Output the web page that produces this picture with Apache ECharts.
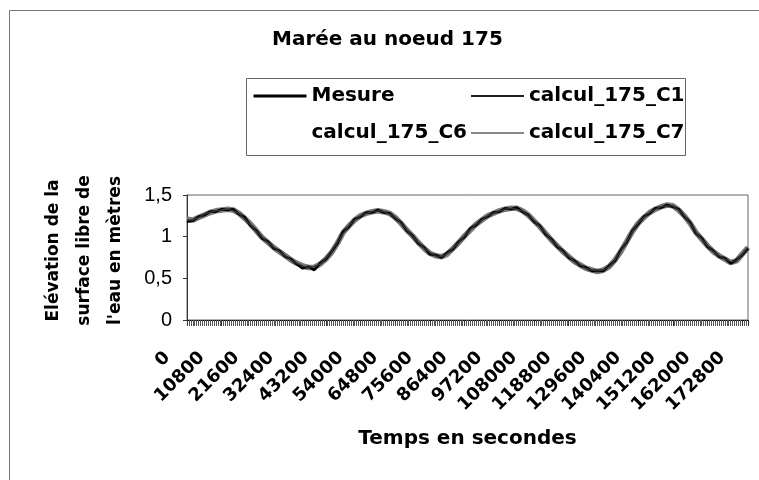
<!DOCTYPE html>
<html>
<head>
<meta charset="utf-8">
<script src="https://cdn.jsdelivr.net/npm/echarts@6/dist/echarts.min.js"></script>
<style>html,body{margin:0;padding:0;background:#fff}#c{width:759px;height:480px}</style>
</head>
<body>
<div id="c"></div>
<script>
// time step between samples (seconds)
const timeStep = 1800;
const xTickLabels = ['0','10800','21600','32400','43200','54000','64800','75600','86400','97200','108000','118800','129600','140400','151200','162000','172800'];
const yTickLabels = ['0','0,5','1','1,5'];
const seriesNames = ['Mesure','calcul_175_C1','calcul_175_C6','calcul_175_C7'];

const mesure = [
 1.18,1.19,1.24,1.26,1.30,1.30,1.33,1.32,1.33,1.27,
 1.23,1.13,1.07,0.98,0.94,0.86,0.83,0.76,0.73,0.67,
 0.62,0.64,0.60,0.68,0.73,0.82,0.92,1.06,1.12,1.21,
 1.24,1.29,1.29,1.32,1.29,1.28,1.22,1.17,1.07,1.01,
 0.92,0.87,0.79,0.78,0.75,0.81,0.85,0.94,1.00,1.10,
 1.14,1.21,1.24,1.29,1.30,1.34,1.33,1.35,1.30,1.26,
 1.18,1.13,1.03,0.97,0.88,0.83,0.75,0.71,0.65,0.63,
 0.59,0.59,0.59,0.65,0.71,0.84,0.93,1.07,1.15,1.24,
 1.28,1.34,1.35,1.38,1.36,1.33,1.24,1.17,1.04,0.98,
 0.88,0.83,0.76,0.74,0.68,0.72,0.78,0.86
];
const calculC1 = [
 1.20,1.20,1.23,1.27,1.29,1.31,1.32,1.33,1.31,1.28,
 1.21,1.14,1.06,0.99,0.93,0.87,0.82,0.77,0.72,0.68,
 0.65,0.63,0.64,0.67,0.74,0.82,0.93,1.04,1.13,1.20,
 1.25,1.28,1.30,1.31,1.30,1.27,1.23,1.16,1.08,1.00,
 0.93,0.86,0.81,0.77,0.76,0.80,0.86,0.93,1.01,1.09,
 1.15,1.20,1.25,1.28,1.31,1.33,1.34,1.33,1.31,1.25,
 1.19,1.12,1.04,0.96,0.89,0.82,0.76,0.70,0.66,0.62,
 0.60,0.59,0.60,0.64,0.72,0.83,0.94,1.06,1.16,1.23,
 1.29,1.33,1.36,1.37,1.37,1.32,1.25,1.16,1.05,0.97,
 0.89,0.82,0.77,0.73,0.70,0.71,0.79,0.87
];
const calculC6 = [
 1.20,1.19,1.23,1.27,1.29,1.31,1.32,1.33,1.32,1.28,
 1.22,1.15,1.06,0.99,0.93,0.87,0.82,0.77,0.72,0.68,
 0.64,0.63,0.63,0.67,0.74,0.81,0.93,1.05,1.13,1.20,
 1.25,1.28,1.30,1.31,1.30,1.28,1.23,1.16,1.08,1.00,
 0.93,0.86,0.80,0.77,0.76,0.80,0.86,0.93,1.01,1.09,
 1.15,1.20,1.25,1.28,1.31,1.33,1.34,1.34,1.31,1.25,
 1.19,1.12,1.04,0.96,0.89,0.82,0.76,0.70,0.66,0.62,
 0.60,0.58,0.60,0.64,0.72,0.83,0.94,1.06,1.16,1.23,
 1.29,1.33,1.36,1.38,1.37,1.32,1.25,1.16,1.05,0.97,
 0.89,0.82,0.77,0.73,0.69,0.71,0.79,0.87
];
const calculC7 = [
 1.21,1.20,1.23,1.26,1.29,1.31,1.32,1.33,1.32,1.28,
 1.22,1.15,1.07,0.99,0.93,0.87,0.82,0.77,0.72,0.68,
 0.65,0.63,0.63,0.67,0.73,0.81,0.92,1.05,1.13,1.20,
 1.25,1.28,1.30,1.31,1.30,1.28,1.23,1.16,1.08,1.01,
 0.93,0.86,0.80,0.77,0.76,0.79,0.86,0.93,1.01,1.08,
 1.15,1.20,1.25,1.28,1.31,1.33,1.34,1.34,1.31,1.26,
 1.19,1.12,1.04,0.96,0.89,0.82,0.76,0.70,0.66,0.62,
 0.60,0.58,0.60,0.64,0.72,0.82,0.94,1.06,1.16,1.23,
 1.29,1.33,1.36,1.38,1.37,1.32,1.25,1.16,1.05,0.97,
 0.89,0.82,0.77,0.73,0.69,0.71,0.79,0.87
];

const times = mesure.map((_, i) => i * timeStep);
const pairs = vals => vals.map((v, i) => [times[i], v]);

const FONT = 'DejaVu Sans';
const chart = echarts.init(document.getElementById('c'), null, {renderer: 'canvas'});
const legendText = {fontFamily: FONT, fontWeight: 'bold', fontSize: 20, color: '#000', lineHeight: 20};

chart.setOption({
  animation: false,
  backgroundColor: '#fff',
  title: {
    text: 'Marée au noeud 175', left: 272, top: 30, padding: 0,
    textStyle: {fontFamily: FONT, fontWeight: 'bold', fontSize: 20, color: '#000'}
  },
  legend: [
    {left: 252, top: 86, orient: 'vertical', padding: 0, itemWidth: 53, itemHeight: 14, itemGap: 17,
     selectedMode: false, textStyle: legendText, itemStyle: {opacity: 0},
     data: [{name: seriesNames[0], lineStyle: {width: 3, color: '#000'}}, {name: seriesNames[2]}]},
    {left: 470, top: 86, orient: 'vertical', padding: 0, itemWidth: 53, itemHeight: 14, itemGap: 17,
     selectedMode: false, textStyle: legendText, itemStyle: {opacity: 0},
     data: [{name: seriesNames[1], lineStyle: {width: 2, color: '#222'}}, {name: seriesNames[3], lineStyle: {width: 2, color: '#888'}}]}
  ],
  graphic: [
    {type: 'rect', silent: true, shape: {x: 9.5, y: 10.5, width: 800, height: 520},
     style: {fill: null, stroke: '#777', lineWidth: 1}},
    {type: 'rect', silent: true, shape: {x: 246.5, y: 78.5, width: 439, height: 77},
     style: {fill: null, stroke: '#666', lineWidth: 1}}
  ],
  grid: {left: 187, right: 11, top: 195, bottom: 160, show: true, borderColor: '#666', borderWidth: 1},
  xAxis: {
    type: 'value', min: 0, max: 174600, interval: 10800,
    name: 'Temps en secondes', nameLocation: 'middle', nameGap: 109,
    nameTextStyle: {fontFamily: FONT, fontWeight: 'bold', fontSize: 20, color: '#000'},
    axisLine: {show: true, lineStyle: {color: '#000', width: 1}},
    axisTick: {show: true, length: 6, lineStyle: {color: '#333'}},
    minorTick: {show: true, splitNumber: 18, length: 6, lineStyle: {color: '#555'}},
    splitLine: {show: false},
    axisLabel: {
      rotate: 45, margin: 15, showMaxLabel: false, padding: [0, 28, 0, 0],
      fontFamily: FONT, fontWeight: 'bold', fontSize: 18, color: '#000',
      formatter: v => (v % 10800 === 0 ? xTickLabels[v / 10800] : '')
    }
  },
  yAxis: {
    type: 'value', min: 0, max: 1.5, interval: 0.5,
    name: 'Elévation de la\nsurface libre de\nl\'eau en mètres',
    nameLocation: 'middle', nameRotate: 90, nameGap: 56,
    nameTextStyle: {fontFamily: FONT, fontWeight: 'bold', fontSize: 17, color: '#000', lineHeight: 31, padding: [0, 0, 0, 14]},
    axisLine: {show: true, lineStyle: {color: '#333'}},
    axisTick: {show: true, length: 4, lineStyle: {color: '#333'}},
    splitLine: {show: false},
    axisLabel: {
      margin: 15, fontFamily: 'Liberation Sans', fontSize: 20, color: '#000',
      formatter: v => yTickLabels[Math.round(v / 0.5)]
    }
  },
  series: [
    {name: seriesNames[2], type: 'line', data: pairs(calculC6), symbol: 'none', z: 1,
     lineStyle: {color: '#ffffff', width: 1}, itemStyle: {color: '#ffffff'}},
    {name: seriesNames[3], type: 'line', data: pairs(calculC7), symbol: 'none', z: 2,
     lineStyle: {color: '#7a7a7a', width: 5.5}, itemStyle: {color: '#7a7a7a'}},
    {name: seriesNames[0], type: 'line', data: pairs(mesure), symbol: 'none', z: 3,
     lineStyle: {color: '#000', width: 2.6}, itemStyle: {color: '#000'}},
    {name: seriesNames[1], type: 'line', data: pairs(calculC1), symbol: 'none', z: 4,
     lineStyle: {color: '#333', width: 1.4}, itemStyle: {color: '#333'}}
  ]
});
</script>
</body>
</html>
